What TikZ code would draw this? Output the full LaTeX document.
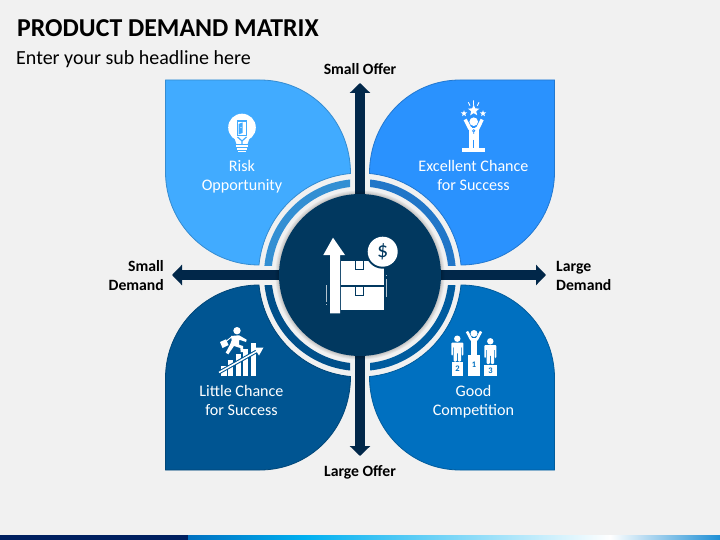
\documentclass[tikz,border=0pt]{standalone}
\usepackage{fontspec}
\setmainfont{Carlito}
\usetikzlibrary{arrows.meta,shapes.geometric}
\definecolor{bgc}{HTML}{F1F1F1}
\definecolor{hubc}{HTML}{01385F}
\definecolor{arrc}{HTML}{012749}
\definecolor{pTL}{HTML}{41ABFF}
\definecolor{pTR}{HTML}{2A92FE}
\definecolor{pBL}{HTML}{005592}
\definecolor{pBR}{HTML}{0070C0}
\definecolor{rTL}{HTML}{338FD3}
\definecolor{rTR}{HTML}{2176C8}
\definecolor{rBL}{HTML}{004F8A}
\definecolor{rBR}{HTML}{005C9F}
\definecolor{barA}{HTML}{002060}
\definecolor{barB}{HTML}{0070C0}
\definecolor{barC}{HTML}{00B0F0}
\definecolor{barD}{HTML}{1E8FD5}
\tikzset{
  axisarrow/.style={draw=arrc,line width=10pt,-{Triangle[width=20pt,length=10pt]}},
  bodytext/.style={text=white,font=\fontsize{16.1}{19}\selectfont,align=center,inner sep=0pt},
  axislabel/.style={text=black,font=\fontsize{15.7}{19}\selectfont\bfseries,inner sep=0pt},
  digit/.style={inner sep=0pt,font=\fontsize{8.5}{9}\selectfont\bfseries},
  minstar/.style={star,star points=5,star point ratio=2.3,fill=white,inner sep=0pt,minimum size=#1}
}
\newcommand{\petalshape}[3]{%
  \begin{scope}[shift={(360,275)},xscale=#1,yscale=#2]
    \filldraw[fill=#3,draw=#3!82!black,line width=0.8pt]
      (-194.5,-195) -- (-100,-195)
      .. controls (-50.3,-195) and (-9.5,-154.7) .. (-9.5,-101.5)
      .. controls (-58.1,-97) and (-96.15,-58.6) .. (-101,-10)
      .. controls (-152.6,-10) and (-194.5,-51.6) .. (-194.5,-103) -- cycle;
  \end{scope}}
\newcommand{\ringband}[4]{%
  \begin{scope}
    \clip (#1) rectangle (#2);
    \fill[#3,even odd rule] (#4) circle[radius=96pt] (#4) circle[radius=88.5pt];
  \end{scope}}
\newcommand{\personfig}[3]{%
  \fill[white] (#1,#2) circle[radius=3.2pt];
  \begin{scope}[shift={(#1,#3)}]
    \fill[white,rounded corners=1pt] (-6,0) -- (6,0) -- (6,13) -- (4.5,13) -- (4.5,4) -- (3.8,4) -- (3.8,19)
      -- (0.5,19) -- (0.5,10) -- (-0.5,10) -- (-0.5,19) -- (-3.8,19) -- (-3.8,4) -- (-4.5,4) -- (-4.5,13) -- (-6,13) -- cycle;
  \end{scope}}
\begin{document}
\begin{tikzpicture}[x=1pt,y=-1pt]
\useasboundingbox (0,0) rectangle (720,540);
\fill[bgc] (0,0) rectangle (720,540);
% bottom bar
\fill[barA] (0,535) rectangle (188,540);
\shade[left color=barB,right color=barC] (188,535) rectangle (305,540);
\shade[left color=barC,right color=white] (305,535) rectangle (610,540);
\shade[left color=white,right color=barD] (610,535) rectangle (720,540);
% titles
\node[anchor=base west,inner sep=0pt,font=\fontsize{25.8}{28}\selectfont\bfseries] (title) at (17,36.5) {PRODUCT DEMAND MATRIX};
\node[anchor=base west,inner sep=0pt,font=\fontsize{20}{24}\selectfont] (subtitle) at (16,65) {Enter your sub headline here};
% axis anchors
\coordinate (hub0) at (360,275);
\coordinate (endN) at (360,83);
\coordinate (endS) at (360,456);
\coordinate (endW) at (172,275);
\coordinate (endE) at (546,275);
\draw[axisarrow] (hub0) -- (endN);
\draw[axisarrow] (hub0) -- (endS);
\draw[axisarrow] (hub0) -- (endW);
\draw[axisarrow] (hub0) -- (endE);
% petals
\petalshape{1}{1}{pTL}
\petalshape{-1}{1}{pTR}
\petalshape{1}{-1}{pBL}
\petalshape{-1}{-1}{pBR}
% ring bands
\ringband{200,150}{350,265}{rTL}{hub0}
\ringband{370,150}{520,265}{rTR}{hub0}
\ringband{200,285}{350,400}{rBL}{hub0}
\ringband{370,285}{520,400}{rBR}{hub0}
% hub
\foreach \r in {84.5,83.5,82.5,81.7}{\fill[black,opacity=0.05] (hub0) circle[radius=\r pt];}
\node[circle,fill=hubc,minimum size=162pt,inner sep=0pt] (hub) at (hub0) {};
% hub icon
\fill[white] (333,237.7) -- (345,255) -- (340,255) -- (340,313.3) -- (330,313.3) -- (330,255) -- (323.3,255) -- cycle;
\fill[white] (341,261) rectangle (384,285.3);
\fill[white] (341,287) rectangle (384,310);
\filldraw[fill=white,draw=hubc,line width=0.8pt] (355,260.6) -- (355,269.3) -- (363.3,269.3) -- (363.3,260.6);
\filldraw[fill=white,draw=hubc,line width=0.8pt] (355,286.6) -- (355,295.7) -- (363.3,295.7) -- (363.3,286.6);
\fill[hubc] (382.7,251.7) circle[radius=17pt];
\node[circle,fill=white,minimum size=30pt,inner sep=0pt,text=hubc,font=\fontsize{22}{22}\selectfont] (dollar) at (382.7,251.7) {\$};
\fill[white!70!hubc] (386.2,279) rectangle (387.2,296.7);
\fill[white!70!hubc] (386.2,274.5) rectangle (387.2,275.5);
\fill[white!70!hubc] (325.5,285) rectangle (326.5,301.7);
\fill[white!70!hubc] (325.5,304) rectangle (326.5,305);
% bulb icon
\fill[white] (242,127.5) circle[radius=13.8pt];
\fill[white] (233,134) -- (251,134) -- (247.5,144) -- (236.5,144) -- cycle;
\fill[white] (236,145.2) rectangle (248,147);
\fill[white] (237,148.4) rectangle (247,150);
\fill[white] (238,151.2) rectangle (246,152.2);
\fill[pTL] (236.5,120.5) rectangle (247,136);
\fill[white] (237.8,121.8) rectangle (245.7,134.8);
\fill[pTL] (238.5,124) -- (242.5,122.5) -- (242.5,133) -- (238.5,134.5) -- cycle;
\fill[white] (241,127.5) circle[radius=0.6pt];
\draw[pTL,line width=1.2pt] (237.5,137) -- (242,141) -- (246.5,137) (242,141) -- (242,144);
% winner icon
\fill[white] (473.7,121.7) circle[radius=4.3pt];
\fill[white] (462,148.3) rectangle (485,152);
\fill[white] (468.5,127) rectangle (479,148.5);
\draw[white,line width=3.4pt] (465.2,119.5) -- (470,129);
\draw[white,line width=3.4pt] (482.2,119.5) -- (477.5,129);
\draw[pTR,line width=0.8pt] (473.7,140) -- (473.7,148.5);
\draw[pTR,line width=0.7pt] (473.7,130.8) circle[radius=1.2pt] (472,127.5) -- (475.4,127.5) (473.7,132) -- (473.7,134);
\node[minstar=12pt] (starA) at (473.7,110.5) {};
\node[minstar=6.5pt] (starB) at (464,113.5) {};
\node[minstar=6.5pt] (starC) at (483,113.5) {};
\draw[white,line width=0.9pt] (473.5,100.5) -- (473.5,105) (468.3,102.3) -- (470,105.7) (479,102.3) -- (477.3,105.7);
% climber icon
\fill[white] (237,330.7) circle[radius=3.7pt];
\fill[white] (231,336) -- (239,335.3) -- (246.7,339.7) -- (246,342) -- (239.3,339.7) -- (239,344.7) -- (243,346) -- (243.3,352) -- (240.7,352) -- (240.3,348) -- (234,346) -- (228.3,354.3) -- (225.7,352.7) -- (230,344.7) -- (231.7,340.3) -- cycle;
\fill[white] (220,342) -- (226,339.3) -- (228.5,345) -- (222.5,348) -- cycle;
\draw[white,line width=1pt] (231.5,337) -- (226.5,341);
\fill[white] (220.7,366) rectangle (226.7,375.7);
\fill[white] (228.3,360) rectangle (233.3,375.7);
\fill[white] (236,354) rectangle (241.3,375.7);
\fill[white] (243.3,349.3) rectangle (248.3,375.7);
\fill[white] (250.7,343.3) rectangle (256,375.7);
\draw[pBL,line width=3.6pt] (219,372.5) -- (259,350);
\draw[white,line width=1.5pt] (219,372.5) -- (259,350);
\fill[white] (263.5,347.5) -- (259,355.5) -- (254,347.5) -- cycle;
% podium icon
\personfig{457.3}{338.7}{342.5}
\personfig{490.3}{341.3}{345}
\fill[white] (474,333.5) circle[radius=3.5pt];
\fill[white] (470.7,338) rectangle (477.3,355);
\draw[white,line width=2.6pt] (467,331.5) -- (471.5,340);
\draw[white,line width=2.6pt] (481,331.5) -- (476.5,340);
\fill[white] (451.7,361.7) rectangle (463.3,375.7);
\fill[white] (468,355.3) rectangle (480,375.7);
\fill[white] (484.3,365) rectangle (496.7,375.7);
\node[digit,text=pBR] (numB) at (457.5,369) {2};
\node[digit,text=pBR] (numA) at (474,364.5) {1};
\node[digit,text=pBR] (numC) at (490.5,371) {3};
% petal texts
\node[bodytext] (tl) at (242,177) {\strut Risk\\\strut Opportunity};
\node[bodytext] (tr) at (473.5,177) {\strut Excellent Chance\\\strut for Success};
\node[bodytext] (bl) at (241.5,402) {\strut Little Chance\\\strut for Success};
\node[bodytext] (br) at (473.5,402) {\strut Good\\\strut Competition};
% axis labels
\node[axislabel,anchor=base] (small) at (360,75) {Small Offer};
\node[axislabel,anchor=base] (large) at (360,476) {Large Offer};
\node[axislabel,anchor=east,align=right] (sd) at (164,276.7) {\strut Small\\\strut Demand};
\node[axislabel,anchor=west,align=left] (ld) at (556,276.7) {\strut Large\\\strut Demand};
\end{tikzpicture}
\end{document}
